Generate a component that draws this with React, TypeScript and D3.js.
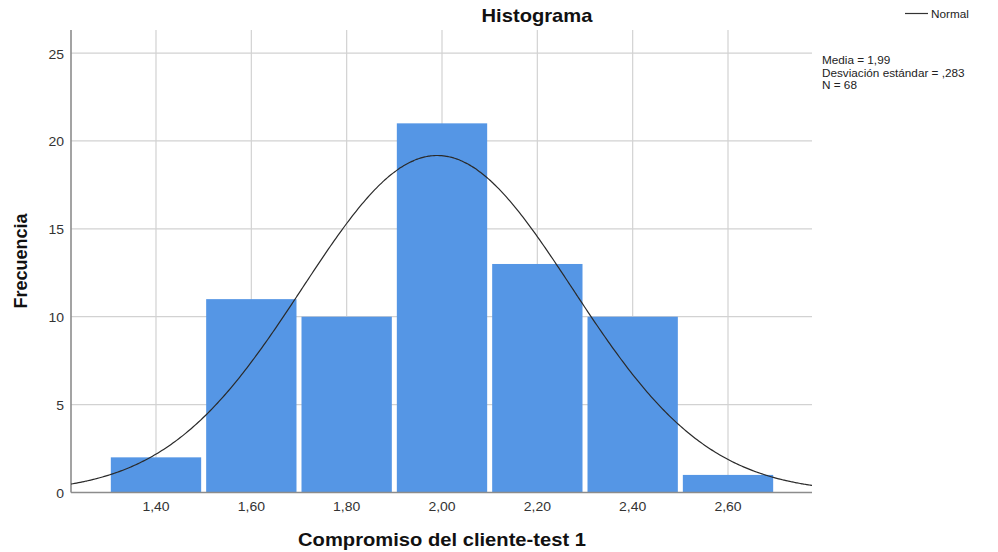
import React from "react";
import * as d3 from "d3";

const binStarts = [1.3, 1.5, 1.7, 1.9, 2.1, 2.3, 2.5];
const frequencies = [2, 11, 10, 21, 13, 10, 1];
const binWidth = 0.2;
const xTicks = [1.4, 1.6, 1.8, 2.0, 2.2, 2.4, 2.6];
const yTicks = [0, 5, 10, 15, 20, 25];
const stats = { mean: 1.99, sd: 0.283, n: 68 };
const statLines = ["Media = 1,99", "Desviación estándar = ,283", "N = 68"];

const W = 998;
const H = 552;
const left = 71, right = 812, top = 30, bottom = 492.5;
const SX = 1.12;
const FONT = "'Liberation Sans', Arial, sans-serif";

function T({ x, y, anchor = "start", size = 12, weight = "normal", fill = "#222", children }: any) {
  const tf = `translate(${x},${y}) scale(${SX},1)`;
  return (
    <text transform={tf} textAnchor={anchor} fontSize={size} fontWeight={weight} fill={fill} fontFamily={FONT}>
      {children}
    </text>
  );
}

export default function App() {
  const x = d3.scaleLinear().domain([1.2217, 2.7762]).range([left, right]);
  const y = d3.scaleLinear().domain([0, 26.31]).range([bottom, top]);
  const peak = (stats.n * binWidth) / (stats.sd * Math.sqrt(2 * Math.PI));
  const curveXs = d3.range(0, 401).map((i) => x.domain()[0] + (i / 400) * (x.domain()[1] - x.domain()[0]));
  const line = d3
    .line<number>()
    .x((v) => x(v))
    .y((v) => y(peak * Math.exp(-0.5 * ((v - stats.mean) / stats.sd) ** 2)))
    .curve(d3.curveBasis);
  const fmt = (v: number) => v.toFixed(2).replace(".", ",");
  const gap = 2.5;

  return (
    <svg width={W} height={H} style={{ position: "absolute", left: 0, top: 0, background: "#fff" }}>
      {/* grid */}
      {xTicks.map((t) => (
        <line key={"gx" + t} x1={x(t)} x2={x(t)} y1={top} y2={bottom} stroke="#d2d2d2" strokeWidth={1.2} />
      ))}
      {yTicks.filter((t) => t > 0).map((t) => (
        <line key={"gy" + t} x1={left} x2={right} y1={y(t)} y2={y(t)} stroke="#d2d2d2" strokeWidth={1.2} />
      ))}
      {/* bars */}
      {binStarts.map((b, i) => (
        <rect
          key={"b" + i}
          x={x(b) + gap}
          width={x(b + binWidth) - x(b) - 2 * gap}
          y={y(frequencies[i])}
          height={bottom - y(frequencies[i])}
          fill="#5596e5"
        />
      ))}
      {/* axes */}
      <line x1={left} x2={left} y1={top} y2={bottom} stroke="#8c8c8c" strokeWidth={1.6} />
      <line x1={left} x2={right} y1={bottom} y2={bottom} stroke="#8c8c8c" strokeWidth={1.6} />
      {/* normal curve */}
      <path d={line(curveXs) || ""} fill="none" stroke="#2a2a2a" strokeWidth={1.2} />
      {/* ticks */}
      {yTicks.map((t) => (
        <T key={"ty" + t} x={64} y={y(t) + 5.5} anchor="end" size={12.5} fill="#333">
          {t}
        </T>
      ))}
      {xTicks.map((t) => (
        <T key={"tx" + t} x={x(t)} y={511} anchor="middle" size={12.5} fill="#333">
          {fmt(t)}
        </T>
      ))}
      {/* titles */}
      <T x={537} y={22} anchor="middle" size={18} weight="bold" fill="#111">
        Histograma
      </T>
      <T x={442} y={546} anchor="middle" size={18} weight="bold" fill="#111">
        Compromiso del cliente-test 1
      </T>
      <text
        transform={`translate(27,${261}) rotate(-90)`}
        textAnchor="middle"
        fontSize={18}
        fontWeight="bold"
        fill="#111"
        fontFamily={FONT}
      >
        Frecuencia
      </text>
      {/* legend */}
      <line x1={905} x2={928} y1={13.5} y2={13.5} stroke="#333" strokeWidth={1.2} />
      <T x={931} y={17.5} size={10.5} fill="#222">
        Normal
      </T>
      {statLines.map((s, i) => (
        <T key={"s" + i} x={822} y={64 + i * 12.5} size={10.5} fill="#222">
          {s}
        </T>
      ))}
    </svg>
  );
}
